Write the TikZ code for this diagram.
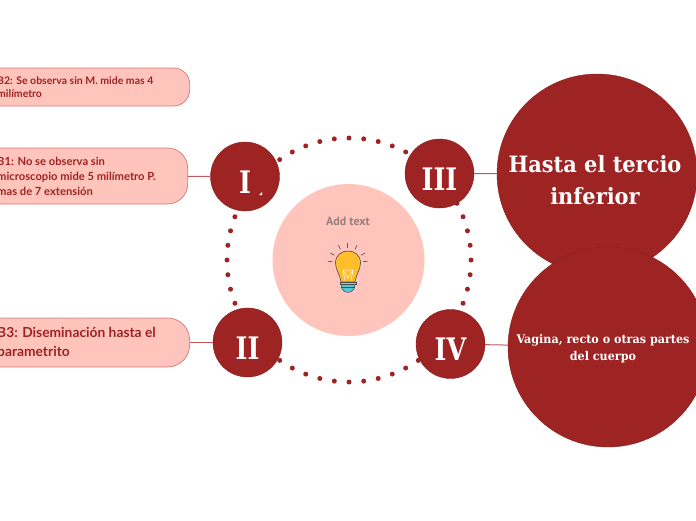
\documentclass[tikz,border=0pt]{standalone}
\usepackage{fontspec}
\setmainfont{Lato}
\newfontfamily\serifbold{DejaVu Serif}[FakeStretch=0.93]
\newfontfamily\numfont{DejaVu Serif}[FakeStretch=0.82]
\newfontfamily\addfont{PT Sans}
\definecolor{darkred}{HTML}{9E2424}
\definecolor{softpink}{HTML}{FFC4BC}
\definecolor{pillline}{HTML}{D5797A}
\definecolor{addgrey}{HTML}{9A7F7C}
\definecolor{bulbyellow}{HTML}{FFBE2A}
\definecolor{bulbcyan}{HTML}{4FC8D8}
\tikzset{
  pillbox/.style={draw=pillline, fill=softpink, line width=0.7pt, rectangle, rounded corners=#1, anchor=east, minimum width=240pt},
  pilltext/.style={text=darkred, anchor=west, align=left, inner sep=0pt, font=\bfseries},
  bigcircle/.style={circle, fill=darkred, draw=darkred!85!black, line width=0.4pt, inner sep=0pt, minimum size=200pt},
  numcircle/.style={circle, fill=darkred, draw=darkred!85!black, line width=0.4pt, inner sep=0pt, minimum size=69pt, text=white, text height=33pt, text depth=0pt, font=\numfont\bfseries\fontsize{31}{31}\selectfont},
  bigtext/.style={text=white, align=center, inner sep=0pt},
  link/.style={draw=pillline!60!darkred, line width=1pt}
}
\begin{document}
\begin{tikzpicture}[x=1pt,y=-1pt]
\useasboundingbox (0,0) rectangle (696,520);
\foreach \a in {0,1,...,51}
  \fill[darkred] ({349+122*cos(\a*6.923)},{260+122*sin(\a*6.923)}) circle (2.5);
\node[circle, fill=softpink, inner sep=0pt, minimum size=152pt] (center) at (348.5,260) {};
\node[text=addgrey, font=\addfont\bfseries\fontsize{12}{12}\selectfont] (addtext) at (348,221) {Add text};
\node[pillbox=16pt, minimum height=38pt] (b2) at (190,87) {};
\node[pillbox=20pt, minimum height=56pt] (b1) at (188,176) {};
\node[pillbox=22pt, minimum height=49pt] (b3) at (190,342.5) {};
\node[pilltext, font=\bfseries\fontsize{10.5}{13}\selectfont] (b2text) at (-3,87) {B2: Se observa sin M. mide mas 4\\milímetro};
\node[pilltext, font=\bfseries\fontsize{11.2}{15}\selectfont] (b1text) at (-3,176) {B1: No se observa sin\\microscopio mide 5 milímetro P.\\mas de 7 extensión};
\node[pilltext, font=\bfseries\fontsize{13.8}{19}\selectfont] (b3text) at (-3,343) {B3: Diseminación hasta el\\parametrito};
\node[bigcircle] (big1) at (597,174) {};
\node[bigcircle] (big2) at (608,347) {};
\node[bigtext, font=\serifbold\bfseries\fontsize{22.5}{32}\selectfont] (big1text) at (595,180) {Hasta el tercio\\inferior};
\node[bigtext, font=\serifbold\bfseries\fontsize{12}{17}\selectfont] (big2text) at (603,348.5) {Vagina, recto o otras partes\\del cuerpo};
\node[numcircle] (one) at (245,176.5) {I};
\node[numcircle] (two) at (247.5,342.5) {II};
\node[numcircle] (three) at (439.5,173.5) {III};
\node[numcircle] (four) at (450.5,344) {IV};
\fill[white] (259,195) -- (262,195) -- (262,192) -- cycle;
\draw[link] (b1) -- (one);
\draw[link] (b3) -- (two);
\draw[link] (three) -- (big1);
\draw[link] (four) -- (big2);
% bulb
\foreach \a in {-175,-150,-118,-90,-62,-30,-5}
  \draw[black!65, line width=0.7pt] ({347.7+15.5*cos(\a)},{263+15.5*sin(\a)}) -- ({347.7+20*cos(\a)},{263+20*sin(\a)});
\draw[black!70, fill=bulbcyan, line width=0.5pt] (341,283) -- (355,283) -- (354,289) .. controls (352,293.5) and (344,293.5) .. (342,289) -- cycle;
\draw[black!70, fill=bulbyellow, line width=0.6pt] (341,282) .. controls (340,274) and (335.5,270) .. (335.5,263) .. controls (335.5,247) and (360.5,247) .. (360.5,263) .. controls (360.5,270) and (356,274) .. (355,282) -- cycle;
\draw[white, line width=0.5pt] (345,281) -- (343,270) -- (353,270) -- (351,281) (343,270) -- (348,278) -- (353,270);
\draw[black!70, fill=bulbcyan!50!softpink, line width=0.5pt] (340,282) rectangle (356,284.5);
\draw[black!70, line width=0.4pt] (341,287) -- (355,287);
\end{tikzpicture}
\end{document}
